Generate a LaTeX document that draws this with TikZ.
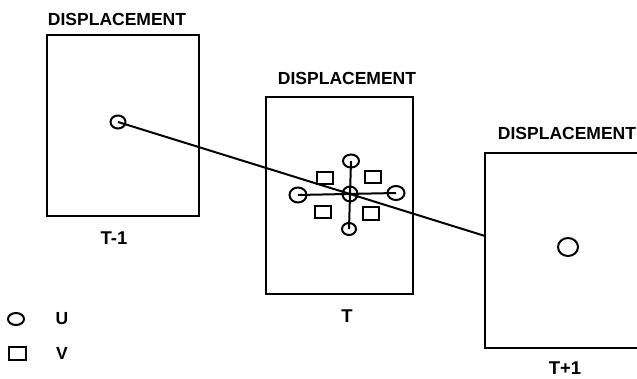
\documentclass[tikz,border=0pt]{standalone}
\usepackage{fontspec}
\setmainfont{Liberation Sans}
\usetikzlibrary{shapes.geometric}
\begin{document}
\begin{tikzpicture}[x=1pt,y=-1pt,
  frame/.style={draw, line width=2.2pt, rectangle, inner sep=0pt},
  ucirc/.style={draw, line width=2pt, ellipse, inner sep=0pt},
  vsq/.style={draw, line width=2pt, rectangle, inner sep=0pt, minimum width=16pt, minimum height=12.5pt},
  lbl/.style={inner sep=0pt, font=\bfseries\fontsize{17.5}{20}\selectfont},
  tlbl/.style={inner sep=0pt, font=\bfseries\fontsize{18.5}{20}\selectfont},
  link/.style={line width=2pt}]
\useasboundingbox (0,0) rectangle (637,379);
% frames
\node[frame, minimum width=152pt, minimum height=181pt] (b1) at (123,125.5) {};
\node[frame, minimum width=147pt, minimum height=197pt] (b2) at (339.5,195.5) {};
\node[frame, minimum width=170pt, minimum height=195pt] (b3) at (570,250.5) {};
% labels
\node[lbl] (l1) at (117,19.5) {DISPLACEMENT};
\node[lbl] (l2) at (347,78) {DISPLACEMENT};
\node[lbl] (l3) at (567,133) {DISPLACEMENT};
\node[tlbl] (t1) at (114,238) {T-1};
\node[tlbl] (t2) at (347,316) {T};
\node[tlbl] (t3) at (565,368) {T+1};
% frame 1 content
\node[ucirc, minimum width=15pt, minimum height=13pt] (c1) at (118,122) {};
% frame 2 content
\node[ucirc, minimum width=15pt, minimum height=15pt] (cc) at (350,194) {};
\node[ucirc, minimum width=17pt, minimum height=15pt] (cl) at (298,195) {};
\node[ucirc, minimum width=17pt, minimum height=14pt] (cr) at (396,193) {};
\node[ucirc, minimum width=16pt, minimum height=13pt] (ct) at (351,161) {};
\node[ucirc, minimum width=14pt, minimum height=12pt] (cb) at (349,229) {};
\node[vsq] (s1) at (324.5,178) {};
\node[vsq] (s2) at (372.5,177) {};
\node[vsq] (s3) at (323,212) {};
\node[vsq] (s4) at (371,213.5) {};
\draw[link] (cl.center) -- (cr.center);
\draw[link] (ct.center) -- (cb.center);
% frame 3 content
\node[ucirc, minimum width=20pt, minimum height=18pt] (c3) at (568,247) {};
% connector
\coordinate (e3) at (485,236);
\draw[link] (c1.center) -- (cc.center) -- (e3);
% legend
\node[ucirc, minimum width=16pt, minimum height=12pt] (lu) at (16,319) {};
\node[lbl] (tu) at (62,319) {U};
\node[vsq, minimum width=17pt, minimum height=13pt] (lv) at (17.5,353) {};
\node[lbl] (tv) at (62,353) {V};
\end{tikzpicture}
\end{document}
